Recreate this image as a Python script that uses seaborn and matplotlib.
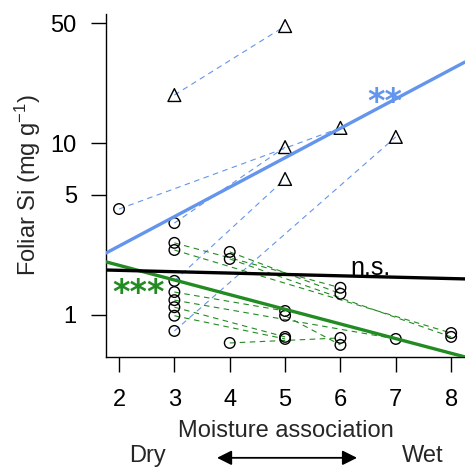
import numpy as np
import pandas as pd
import matplotlib
matplotlib.use("Agg")
import matplotlib.pyplot as plt
import matplotlib.transforms as mtransforms
from matplotlib.ticker import NullLocator
import seaborn as sns

# Paired species: (dry-end member) -> (wet-end member)
pair_group = ["blue"] * 5 + ["green"] * 10
dry_x = [3, 2, 3, 3, 3, 3, 3, 4, 4, 3, 3, 3, 3, 4, 5]
dry_si = [19.1, 4.14, 3.43, 1.58, 0.807, 2.63, 2.39, 2.33, 2.12, 1.36, 1.22, 1.11, 0.99, 0.687, 0.99]
dry_shape = ["tri", "circ", "circ", "circ", "circ"] + ["circ"] * 10
wet_x = [5, 6, 5, 5, 7, 6, 8, 6, 8, 5, 7, 5, 5, 6, 6]
wet_si = [48.2, 12.3, 9.5, 6.2, 10.9, 1.44, 0.785, 1.33, 0.745, 1.055, 0.725, 0.745, 0.725, 0.735, 0.669]
wet_shape = ["tri"] * 5 + ["circ"] * 10

# Fitted lines, log10(Si) = a + b * moisture
fit_names = ["blue", "green", "black"]
fit_a = [0.058, 0.460, 0.276]
fit_b = [0.1716, -0.0854, -0.008]

colors = {"blue": "#6495ED", "green": "#228B22", "black": "black"}

xlim = (1.765, 8.25)
ylim = (0.569, 56.6)

# long tables
pairs = pd.DataFrame({
    "pair": list(range(len(dry_x))) * 2,
    "group": pair_group * 2,
    "moisture": dry_x + wet_x,
    "si": dry_si + wet_si,
    "shape": dry_shape + wet_shape,
})

fx = np.array(xlim)
fits = pd.concat([
    pd.DataFrame({"fit": n, "moisture": fx, "si": 10 ** (a + b * fx)})
    for n, a, b in zip(fit_names, fit_a, fit_b)
])

sns.set_theme(style="ticks")
plt.rcParams["font.family"] = ["Liberation Sans", "DejaVu Sans"]
plt.rcParams["mathtext.default"] = "regular"
fs = 17

fig = plt.figure(figsize=(4.65, 4.69), dpi=100)
ax = fig.add_axes([0.228, 0.2388, 0.772, 0.7312])

sns.lineplot(data=pairs, x="moisture", y="si", units="pair", estimator=None,
             hue="group", palette=colors, sort=False, legend=False,
             linewidth=0.8, linestyle=(0, (5, 4)), ax=ax)
sns.scatterplot(data=pairs, x="moisture", y="si", style="shape", size="shape",
                markers={"circ": "o", "tri": "^"}, sizes={"circ": 58, "tri": 85},
                facecolors="none", edgecolors="black", linewidth=1.0,
                legend=False, zorder=3, ax=ax)
sns.lineplot(data=fits, x="moisture", y="si", hue="fit", palette=colors,
             linewidth=2.4, legend=False, ax=ax, zorder=4)

ax.set_yscale("log")
ax.set_xlim(*xlim)
ax.set_ylim(*ylim)
ax.set_xticks(range(2, 9))
ax.set_yticks([1, 5, 10, 50])
ax.set_yticklabels(["1", "5", "10", "50"])
ax.yaxis.set_minor_locator(NullLocator())
ax.tick_params(axis="x", length=11, width=1, pad=12, labelsize=fs, colors="black")
ax.tick_params(axis="y", length=11, width=1, pad=10, labelsize=fs, colors="black")
for sp in ["left", "bottom"]:
    ax.spines[sp].set_linewidth(1.0)
    ax.spines[sp].set_color("black")
sns.despine(ax=ax)

ax.set_xlabel("Moisture association", fontsize=fs)
ax.xaxis.set_label_coords(0.5, -0.183)
ax.set_ylabel("Foliar Si (mg g$^{-1}$)", fontsize=fs)
ax.yaxis.set_label_coords(-0.175, 0.5)

# significance labels
ax.text(6.81, 15.2, "**", color=colors["blue"], fontsize=24, family="DejaVu Sans",
        fontweight="bold", ha="center", va="baseline")
ax.text(2.36, 1.175, "***", color=colors["green"], fontsize=24, family="DejaVu Sans",
        fontweight="bold", ha="center", va="baseline")
ax.text(6.18, 1.71, "n.s.", color="black", fontsize=18, ha="left", va="baseline")

# Dry <-> Wet gradient under the axis
trans = mtransforms.blended_transform_factory(ax.transData, ax.transAxes)
ax.text(2.52, -0.305, "Dry", transform=trans, fontsize=fs, ha="center", va="baseline", clip_on=False)
ax.text(7.48, -0.305, "Wet", transform=trans, fontsize=fs, ha="center", va="baseline", clip_on=False)
ax.annotate("", xy=(6.30, -0.294), xytext=(3.77, -0.294), xycoords=trans, textcoords=trans,
            arrowprops=dict(arrowstyle="<|-|>", color="black", lw=1.3,
                            mutation_scale=22, shrinkA=0, shrinkB=0),
            annotation_clip=False)

fig.savefig("out.png", dpi=100)
